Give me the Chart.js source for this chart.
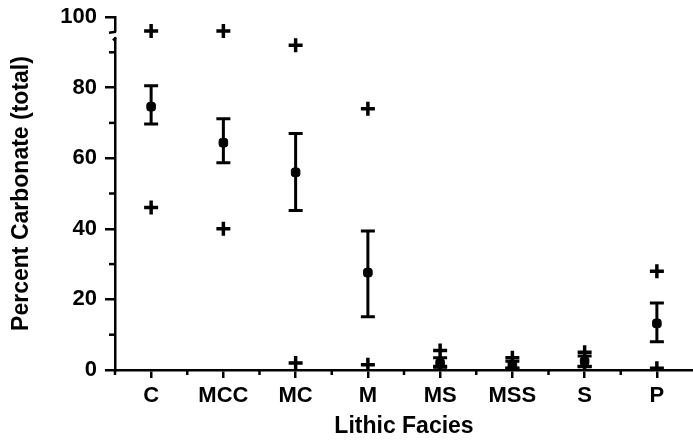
<!DOCTYPE html>
<html>
<head>
<meta charset="utf-8">
<script src="https://cdn.jsdelivr.net/npm/chart.js@4/dist/chart.umd.min.js"></script>
<style>
  html, body { margin: 0; padding: 0; background: #fff; }
  #wrap { width: 693px; height: 444px; }
</style>
</head>
<body>
<div id="wrap"><canvas id="myChart"></canvas></div>
<script>
var categories = ["C", "MCC", "MC", "M", "MS", "MSS", "S", "P"];
var maxValues  = [96, 96, 92, 74, 5.5, 3.5, 5, 28];
var minValues  = [46, 40, 2, 1.5, 1, 0.5, 1, 0.5];
var meanValues = [74.6, 64.4, 56, 27.6, 2, 1.5, 2.5, 13.2];
var errHigh    = [80.5, 71.2, 67, 39.4, 3.5, 2.5, 4, 19];
var errLow     = [69.7, 58.7, 45.2, 15.1, 0.8, 0.5, 1, 8];
var yTicks     = [0, 20, 40, 60, 80, 100];

var FONT = 'Liberation Sans';

// error bars + minor ticks + axis break, all through the chart scales
var extras = {
  id: 'extras',
  afterDatasetsDraw: function (chart) {
    var ctx = chart.ctx, x = chart.scales.x, y = chart.scales.y;
    var area = chart.chartArea;
    ctx.save();
    ctx.strokeStyle = '#000';
    ctx.lineWidth = 3;
    for (var i = 0; i < categories.length; i++) {
      var px = x.getPixelForValue(i);
      var top = y.getPixelForValue(errHigh[i]);
      var bot = y.getPixelForValue(errLow[i]);
      ctx.beginPath();
      ctx.moveTo(px, top); ctx.lineTo(px, bot);
      ctx.moveTo(px - 7, top); ctx.lineTo(px + 7, top);
      ctx.moveTo(px - 7, bot); ctx.lineTo(px + 7, bot);
      ctx.stroke();
    }
    // minor ticks
    ctx.lineWidth = 2.5;
    for (var v = 10; v < 100; v += 20) {
      var py = y.getPixelForValue(v);
      ctx.beginPath(); ctx.moveTo(area.left, py); ctx.lineTo(area.left - 6, py); ctx.stroke();
    }
    var step = x.getPixelForValue(1) - x.getPixelForValue(0);
    for (var j = -1; j < categories.length - 1; j++) {
      var mx = x.getPixelForValue(j) + step / 2;
      ctx.beginPath(); ctx.moveTo(mx, area.bottom); ctx.lineTo(mx, area.bottom + 5); ctx.stroke();
    }
    // axis break near top
    var g1 = y.getPixelForValue(95.8), g2 = y.getPixelForValue(94.2);
    ctx.fillStyle = '#fff';
    ctx.fillRect(area.left - 3, g1, 7, g2 - g1);
    ctx.beginPath();
    ctx.moveTo(area.left + 1, g1); ctx.lineTo(area.left - 6, g1 + 1);
    ctx.moveTo(area.left + 1, g2); ctx.lineTo(area.left - 2, g2 + 3);
    ctx.stroke();
    ctx.restore();
  }
};

var ctx = document.getElementById('myChart').getContext('2d');
var myChart = new Chart(ctx, {
  type: 'line',
  data: {
    labels: categories,
    datasets: [
      { data: maxValues, showLine: false, pointStyle: 'cross', pointRadius: 7, borderWidth: 3.5, borderColor: '#000', backgroundColor: '#000' },
      { data: minValues, showLine: false, pointStyle: 'cross', pointRadius: 7, borderWidth: 3.5, borderColor: '#000', backgroundColor: '#000' },
      { data: meanValues, showLine: false, pointStyle: 'rectRounded', pointRadius: 5, borderWidth: 1, borderColor: '#000', backgroundColor: '#000' }
    ]
  },
  options: {
    responsive: true,
    maintainAspectRatio: false,
    animation: false,
    layout: { autoPadding: false, padding: { top: 17, right: 0, left: 8, bottom: 4 } },
    plugins: { legend: { display: false }, tooltip: { enabled: false } },
    scales: {
      x: {
        offset: true,
        afterFit: function (axis) { axis.height = 70; axis.paddingLeft = 0; axis.paddingRight = 0; },
        grid: { display: true, drawOnChartArea: false, offset: false, tickLength: 8, color: '#000', lineWidth: 2.5 },
        border: { color: '#000', width: 2.5 },
        ticks: { color: '#000', font: { family: FONT, size: 22, weight: 'bold' }, padding: 5, maxRotation: 0, autoSkip: false },
        title: { display: true, text: 'Lithic Facies', color: '#000', font: { family: FONT, size: 23, weight: 'bold' }, padding: { top: 0, bottom: 0 } }
      },
      y: {
        min: 0, max: 100,
        afterFit: function (axis) { axis.width = 107; axis.paddingTop = 0; axis.paddingBottom = 0; },
        afterBuildTicks: function (axis) { axis.ticks = yTicks.map(function (v) { return { value: v }; }); },
        grid: { display: true, drawOnChartArea: false, tickLength: 10, color: '#000', lineWidth: 2.5 },
        border: { color: '#000', width: 2.5 },
        ticks: { color: '#000', font: { family: FONT, size: 22, weight: 'bold' }, padding: 8 },
        title: { display: true, text: 'Percent Carbonate (total)', color: '#000', font: { family: FONT, size: 23, weight: 'bold' }, padding: { top: 0, bottom: 0 } }
      }
    }
  },
  plugins: [extras]
});
</script>
</body>
</html>
